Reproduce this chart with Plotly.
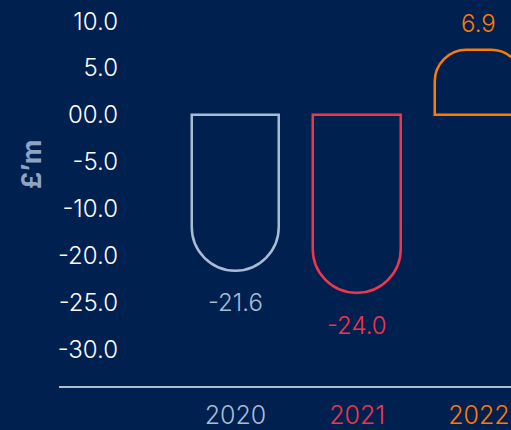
import plotly.graph_objects as go

# ---- data ----
years = ["2020", "2021", "2022"]
values = [-21.6, -24.0, 6.9]
value_labels = ["-21.6", "-24.0", "6.9"]
colors = ["#a9bcd6", "#f0364a", "#ff7a00"]
tick_values = [10, 5, 0, -5, -10, -20, -25, -30]
tick_labels = ["10.0", "5.0", "00.0", "-5.0", "-10.0", "-20.0", "-25.0", "-30.0"]

BG = "#002050"
FONT = "Inter"

# broken axis: the scale skips from -10 straight to -20
BREAK_AT, GAP = -10, 5
def to_axis(v):
    return v if v >= BREAK_AT else v + GAP

radii = ["50%", "50%", 32]

fig = go.Figure()
for yr, v, c, r in zip(years, values, colors, radii):
    fig.add_trace(go.Bar(
        x=[yr], y=[to_axis(v)], width=0.723,
        marker=dict(color="rgba(0,0,0,0)", line=dict(color=c, width=2.5), cornerradius=r),
        showlegend=False, hoverinfo="skip",
    ))

for i, (v, lab, c) in enumerate(zip(values, value_labels, colors)):
    fig.add_annotation(
        x=i, y=to_axis(v), text=lab, showarrow=False,
        yanchor="middle", yshift=(27 if v >= 0 else -32),
        font=dict(family=FONT, size=24, color=c, weight=300),
    )

fig.add_annotation(
    xref="paper", yref="paper", x=-0.29, y=0.575, text="£’m", textangle=-90,
    showarrow=False, font=dict(family=FONT, size=27, color="#8ea4c4", weight=700),
)

fig.add_shape(type="line", xref="paper", yref="paper", x0=-0.171, x1=1, y0=0, y1=0,
              line=dict(color="#b0bdd0", width=2))

fig.update_layout(
    width=511, height=430,
    margin=dict(l=125, r=0, t=0, b=41),
    paper_bgcolor=BG, plot_bgcolor=BG,
    bargap=0,
    xaxis=dict(
        type="category", categoryarray=years, range=[-0.908, 2.264],
        showline=False, showgrid=False, zeroline=False, ticks="",
        tickvals=years,
        ticktext=[f'<span style="color:{c}">{y}</span>' for y, c in zip(years, colors)],
        tickfont=dict(family=FONT, size=25, weight=300),
        ticklabelstandoff=11,
    ),
    yaxis=dict(
        range=[-29.0, 12.25],
        tickvals=[to_axis(t) for t in tick_values], ticktext=tick_labels,
        showline=False, showgrid=False, zeroline=False, ticks="",
        tickfont=dict(family=FONT, size=24, color="#ffffff", weight=300),
        ticklabelstandoff=6,
    ),
)

fig.write_html("out.html")
